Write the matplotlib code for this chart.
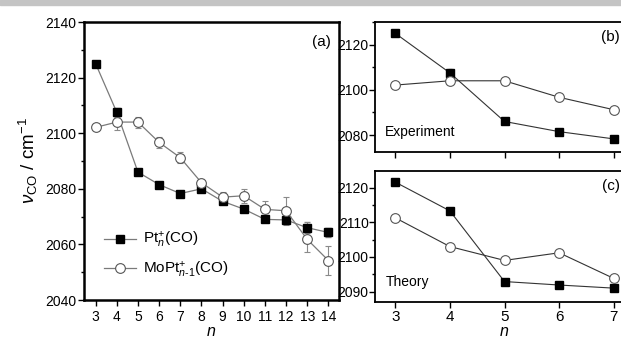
import matplotlib
matplotlib.use('Agg')
import matplotlib.pyplot as plt
from matplotlib.patches import Rectangle
from matplotlib.lines import Line2D
from matplotlib.ticker import MultipleLocator

plt.rcParams['font.family'] = ['Liberation Sans', 'DejaVu Sans']
plt.rcParams['mathtext.fontset'] = 'custom'
plt.rcParams['mathtext.rm'] = 'Liberation Sans'
plt.rcParams['mathtext.it'] = 'Liberation Sans:italic'

# experiment, n = 3..14
n_exp = [3, 4, 5, 6, 7, 8, 9, 10, 11, 12, 13, 14]
pt_exp = [2125.0, 2107.5, 2086.0, 2081.5, 2078.3, 2080.0, 2075.5, 2072.7, 2069.0, 2068.8, 2066.0, 2064.3]
pt_err = [1.0, 1.5, 0.8, 0.8, 0.8, 0.8, 0.8, 0.8, 0.8, 0.8, 2.0, 1.5]
mopt_exp = [2102.1, 2104.0, 2104.0, 2096.7, 2091.2, 2082.2, 2077.0, 2077.5, 2072.6, 2072.1, 2061.8, 2054.2]
mopt_err = [1.0, 3.0, 2.0, 2.0, 2.0, 1.5, 2.0, 2.5, 3.0, 5.0, 4.5, 5.3]

# theory, n = 3..7
n_th = [3, 4, 5, 6, 7]
pt_th = [2121.6, 2113.3, 2092.9, 2091.9, 2091.0]
mopt_th = [2111.3, 2103.0, 2099.0, 2101.2, 2093.8]

W, H = 621, 340
fig = plt.figure(figsize=(6.21, 3.40), dpi=100)
fig.patches.append(Rectangle((0, 1 - 5 / H), 1, 5 / H, transform=fig.transFigure,
                             color='#c4c4c4', zorder=0))


def box(px_left, px_top, px_right, px_bottom):
    return [px_left / W, 1 - px_bottom / H, (px_right - px_left) / W, (px_bottom - px_top) / H]


def style(ax, lw=1.5):
    for s in ax.spines.values():
        s.set_linewidth(lw)
    ax.tick_params(which='both', direction='out', labelsize=10, width=1, pad=1.5)
    ax.tick_params(which='major', length=4)
    ax.tick_params(which='minor', length=2.5)


# panel (a)
ax = fig.add_axes(box(84, 22, 339, 300))
ax.errorbar(n_exp, pt_exp, yerr=pt_err, color='#7a7a7a', lw=0.9, marker='s', ms=6,
            mfc='black', mec='black', ecolor='#8a8a8a', elinewidth=0.8, capsize=2)
ax.errorbar(n_exp, mopt_exp, yerr=mopt_err, color='#7a7a7a', lw=0.9, marker='o', ms=7,
            mfc='white', mec='#555555', mew=0.8, ecolor='#8a8a8a', elinewidth=0.8, capsize=2)
ax.set_xlim(2.45, 14.5)
ax.set_ylim(2040, 2140)
ax.set_xticks(n_exp)
ax.yaxis.set_major_locator(MultipleLocator(20))
ax.yaxis.set_minor_locator(MultipleLocator(10))
style(ax, 1.8)
ax.tick_params(axis='x', pad=3)
ax.set_ylabel(r'$\nu_{\rm CO}$ / cm$^{-1}$', fontsize=13.5, labelpad=4)
ax.set_xlabel(r'$n$', fontsize=11.5, va='bottom')
ax.xaxis.set_label_coords(0.5, -38.5 / 278)
ax.text(0.97, 0.955, '(a)', transform=ax.transAxes, ha='right', va='top', fontsize=11)
handles = [
    Line2D([], [], color='#7a7a7a', lw=0.9, marker='s', ms=6, mfc='black', mec='black'),
    Line2D([], [], color='#7a7a7a', lw=0.9, marker='o', ms=7, mfc='white', mec='#555555', mew=0.8),
]
ax.legend(handles, [r'Pt$_{n}^{+}$(CO)', r'MoPt$_{n\text{-}1}^{+}$(CO)'],
          loc='lower left', bbox_to_anchor=(0.035, 0.035), frameon=False, fontsize=11,
          handlelength=2.1, handletextpad=0.45, labelspacing=0.6, borderaxespad=0.3)

# panel (b)
axb = fig.add_axes(box(375, 22, 634, 152))
axb.errorbar(n_th, pt_exp[:5], yerr=pt_err[:5], color='#333333', lw=0.8, marker='s', ms=6,
             mfc='black', mec='black', ecolor='#888888', elinewidth=0.6, capsize=1.5)
axb.errorbar(n_th, mopt_exp[:5], yerr=[e * 0.5 for e in mopt_err[:5]], color='#333333', lw=0.8,
             marker='o', ms=7, mfc='white', mec='#555555', mew=0.8, ecolor='#999999',
             elinewidth=0.6, capsize=1.5)
axb.set_xlim(2.63, 7.37)
axb.set_ylim(2072.5, 2130)
axb.set_xticks(n_th)
axb.set_xticklabels([])
axb.yaxis.set_major_locator(MultipleLocator(20))
axb.yaxis.set_minor_locator(MultipleLocator(10))
style(axb, 1.3)
axb.tick_params(axis='y', pad=0.5)
axb.text(0.04, 0.1, 'Experiment', transform=axb.transAxes, ha='left', va='bottom', fontsize=10)
axb.text(0.945, 0.94, '(b)', transform=axb.transAxes, ha='right', va='top', fontsize=11)

# panel (c)
axc = fig.add_axes(box(375, 171, 634, 302))
axc.plot(n_th, pt_th, color='#333333', lw=0.8, marker='s', ms=6, mfc='black', mec='black')
axc.plot(n_th, mopt_th, color='#333333', lw=0.8, marker='o', ms=7, mfc='white',
         mec='#555555', mew=0.8)
axc.set_xlim(2.63, 7.37)
axc.set_ylim(2087, 2124.8)
axc.set_xticks(n_th)
axc.yaxis.set_major_locator(MultipleLocator(10))
axc.yaxis.set_minor_locator(MultipleLocator(5))
style(axc, 1.3)
axc.tick_params(axis='y', pad=0.5)
axc.tick_params(axis='x', labelsize=11, pad=1.5)
axc.set_xlabel(r'$n$', fontsize=11.5, va='bottom')
axc.xaxis.set_label_coords(0.5, -37.5 / 131)
axc.text(0.04, 0.1, 'Theory', transform=axc.transAxes, ha='left', va='bottom', fontsize=10)
axc.text(0.945, 0.94, '(c)', transform=axc.transAxes, ha='right', va='top', fontsize=11)

fig.savefig('out.png', dpi=100)
